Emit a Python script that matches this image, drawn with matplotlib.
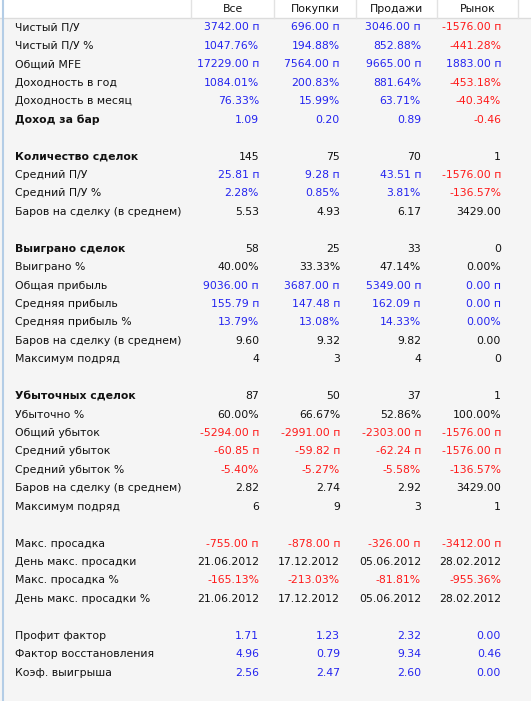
import matplotlib
matplotlib.use("Agg")
import matplotlib.pyplot as plt
from matplotlib.patches import Rectangle

plt.rcParams['font.family'] = ['DejaVu Sans']

columns = ["Все", "Покупки", "Продажи", "Рынок"]

# None marks an empty spacer row
row_labels = [
    "Чистый П/У", "Чистый П/У %", "Общий MFE", "Доходность в год",
    "Доходность в месяц", "Доход за бар", None,
    "Количество сделок", "Средний П/У", "Средний П/У %",
    "Баров на сделку (в среднем)", None,
    "Выиграно сделок", "Выиграно %", "Общая прибыль", "Средняя прибыль",
    "Средняя прибыль %", "Баров на сделку (в среднем)", "Максимум подряд", None,
    "Убыточных сделок", "Убыточно %", "Общий убыток", "Средний убыток",
    "Средний убыток %", "Баров на сделку (в среднем)", "Максимум подряд", None,
    "Макс. просадка", "День макс. просадки", "Макс. просадка %",
    "День макс. просадки %", None,
    "Профит фактор", "Фактор восстановления", "Коэф. выигрыша",
]

bold_labels = ["Доход за бар", "Количество сделок", "Выиграно сделок", "Убыточных сделок"]

# rows shown in black regardless of sign
plain_rows = [
    "Количество сделок", "Баров на сделку (в среднем)", "Выиграно сделок",
    "Выиграно %", "Максимум подряд", "Убыточных сделок", "Убыточно %",
    "День макс. просадки", "День макс. просадки %",
]

row_values = [
    ["3742.00 п", "696.00 п", "3046.00 п", "-1576.00 п"],
    ["1047.76%", "194.88%", "852.88%", "-441.28%"],
    ["17229.00 п", "7564.00 п", "9665.00 п", "1883.00 п"],
    ["1084.01%", "200.83%", "881.64%", "-453.18%"],
    ["76.33%", "15.99%", "63.71%", "-40.34%"],
    ["1.09", "0.20", "0.89", "-0.46"],
    None,
    ["145", "75", "70", "1"],
    ["25.81 п", "9.28 п", "43.51 п", "-1576.00 п"],
    ["2.28%", "0.85%", "3.81%", "-136.57%"],
    ["5.53", "4.93", "6.17", "3429.00"],
    None,
    ["58", "25", "33", "0"],
    ["40.00%", "33.33%", "47.14%", "0.00%"],
    ["9036.00 п", "3687.00 п", "5349.00 п", "0.00 п"],
    ["155.79 п", "147.48 п", "162.09 п", "0.00 п"],
    ["13.79%", "13.08%", "14.33%", "0.00%"],
    ["9.60", "9.32", "9.82", "0.00"],
    ["4", "3", "4", "0"],
    None,
    ["87", "50", "37", "1"],
    ["60.00%", "66.67%", "52.86%", "100.00%"],
    ["-5294.00 п", "-2991.00 п", "-2303.00 п", "-1576.00 п"],
    ["-60.85 п", "-59.82 п", "-62.24 п", "-1576.00 п"],
    ["-5.40%", "-5.27%", "-5.58%", "-136.57%"],
    ["2.82", "2.74", "2.92", "3429.00"],
    ["6", "9", "3", "1"],
    None,
    ["-755.00 п", "-878.00 п", "-326.00 п", "-3412.00 п"],
    ["21.06.2012", "17.12.2012", "05.06.2012", "28.02.2012"],
    ["-165.13%", "-213.03%", "-81.81%", "-955.36%"],
    ["21.06.2012", "17.12.2012", "05.06.2012", "28.02.2012"],
    None,
    ["1.71", "1.23", "2.32", "0.00"],
    ["4.96", "0.79", "9.34", "0.46"],
    ["2.56", "2.47", "2.60", "0.00"],
]

BLUE = "#2424f0"
RED = "#ff1a1a"
BLACK = "#111111"

W, H = 531, 701
fig = plt.figure(figsize=(W / 100, H / 100), dpi=100)
fig.patch.set_facecolor("#f5f5f5")
ax = fig.add_axes([0, 0, 1, 1])
ax.set_xlim(0, W)
ax.set_ylim(H, 0)
ax.axis("off")

# header strip
ax.add_patch(Rectangle((0, 0), W, 18, facecolor="white", edgecolor="none"))
ax.plot([0, W], [18, 18], color="#dcdcdc", lw=1)
col_edges = [191, 274, 356, 437, 518]
for x in col_edges:
    ax.plot([x, x], [0, 18], color="#e2e2e2", lw=1)
# left border
ax.plot([2.5, 2.5], [0, H], color="#b4cde6", lw=1.5)

fs = 7.8
for j, name in enumerate(columns):
    xc = (col_edges[j] + col_edges[j + 1]) / 2
    ax.text(xc, 9.5, name, ha="center", va="center", fontsize=fs, color=BLACK)

right_edges = [259, 340, 421, 501]
y0, dy = 27.5, 18.43
for i, (lab, vals) in enumerate(zip(row_labels, row_values)):
    if lab is None:
        continue
    y = y0 + i * dy
    ax.text(15, y, lab, ha="left", va="center", fontsize=fs, color=BLACK,
            fontweight="bold" if lab in bold_labels else "normal")
    for j, v in enumerate(vals):
        if lab in plain_rows:
            c = BLACK
        elif v.startswith("-"):
            c = RED
        else:
            c = BLUE
        ax.text(right_edges[j], y, v, ha="right", va="center", fontsize=fs, color=c)

fig.savefig("out.png", dpi=100, facecolor=fig.get_facecolor())
